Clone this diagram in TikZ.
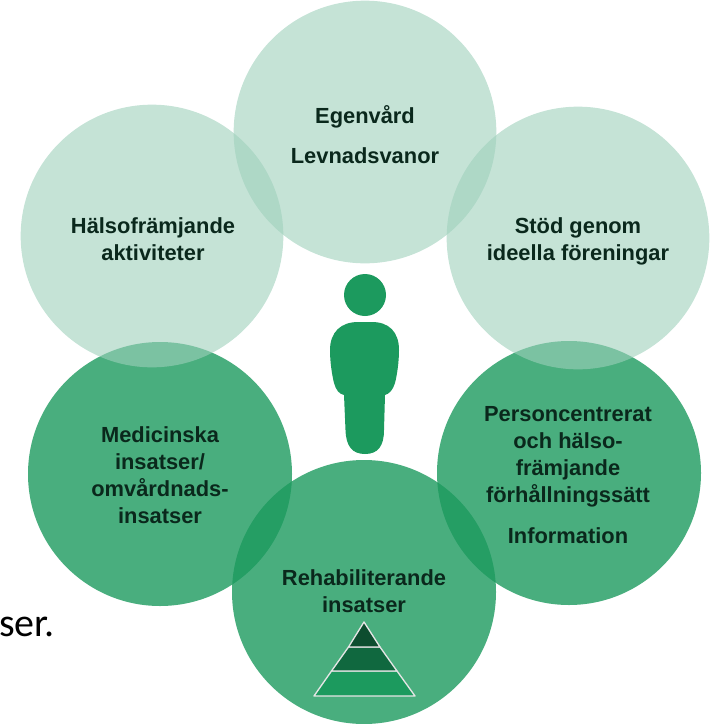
\documentclass[tikz,border=0pt]{standalone}
\usepackage{fontspec}
\setmainfont{Liberation Sans}
\newfontfamily\bodyfont{Carlito}
\usetikzlibrary{positioning}
\definecolor{basegreen}{RGB}{28, 154, 94}
\definecolor{palegreen}{RGB}{158, 208, 187}
\definecolor{labelink}{RGB}{10, 40, 28}
\definecolor{pyrtop}{RGB}{13, 77, 47}
\definecolor{pyrmid}{RGB}{16, 104, 63}

\begin{document}
\begin{tikzpicture}[
    x=0.75pt, y=-0.75pt,
    upper/.style={
        circle, minimum size=197pt, inner sep=0pt,
        fill=palegreen, fill opacity=0.6
    },
    lower/.style={
        circle, minimum size=198pt, inner sep=0pt,
        fill=basegreen, fill opacity=0.8
    },
    caption/.style={
        align=center, text=labelink, inner sep=0pt,
        font=\fontsize{16.4}{20.3}\selectfont\bfseries
    },
    band/.style={
        draw=white!90!black, line width=1pt, line join=round
    }
]
\useasboundingbox (0, 0) rectangle (712, 724);

% Lower ring
\node[lower] (medical) at (160, 474) {};
\node[lower] (person) at (569, 473) {};
\node[lower] (rehab) at (364, 592) {};

% Upper ring
\node[upper] (self) at (365, 132) {};
\node[upper] (promo) at (152, 236) {};
\node[upper] (support) at (578, 238) {};

% Labels
\node[caption] (selflabel) at (365, 117) {Egenvård};
\node[caption] (habits) at (365, 156) {Levnadsvanor};
\node[caption] (promolabel) at (153, 239) {Hälsofrämjande\\aktiviteter};
\node[caption] (supportlabel) at (578, 241) {Stöd genom\\ideella föreningar};
\node[caption] (medlabel) at (160, 475) {Medicinska\\insatser/\\omvårdnads-\\insatser};
\node[caption] (personlabel) at (568, 457) {Personcentrerat\\och hälso-\\främjande\\förhållningssätt};
\node[caption] (infolabel) at (568, 536) {Information};
\node[caption] (rehablabel) at (364, 591) {Rehabiliterande\\insatser};

% Figure in the middle
\node[circle, fill=basegreen, minimum size=31.5pt, inner sep=0pt] (head) at (365, 295) {};
\fill[basegreen] (330, 350) .. controls (330, 332) and (341, 322) .. (358, 322)
    -- (372, 322) .. controls (389, 322) and (399, 332) .. (399, 350)
    .. controls (399, 362) and (397, 375) .. (395, 383)
    .. controls (393, 390) and (389, 394) .. (385, 395)
    -- (384, 430) .. controls (384, 446) and (378, 454) .. (365, 454)
    .. controls (352, 454) and (346, 446) .. (345.5, 430)
    -- (344, 395) .. controls (339, 394) and (336, 390) .. (334, 383)
    .. controls (332, 375) and (330, 362) .. (330, 350) -- cycle;

% Pyramid
\coordinate (apex) at (364, 622);
\coordinate (topl) at (348.5, 647);
\coordinate (topr) at (380, 647);
\coordinate (midl) at (331.5, 671);
\coordinate (midr) at (397, 671);
\coordinate (basel) at (314, 696);
\coordinate (baser) at (415, 696);
\draw[band, fill=basegreen] (midl) -- (midr) -- (baser) -- (basel) -- cycle;
\draw[band, fill=pyrmid] (topl) -- (topr) -- (midr) -- (midl) -- cycle;
\draw[band, fill=pyrtop] (apex) -- (topr) -- (topl) -- cycle;

% Cropped page text
\node[font=\bodyfont\fontsize{30}{34}\selectfont, anchor=base west, inner sep=0pt] (pagetext) at (-1, 636) {ser.};

\end{tikzpicture}
\end{document}
